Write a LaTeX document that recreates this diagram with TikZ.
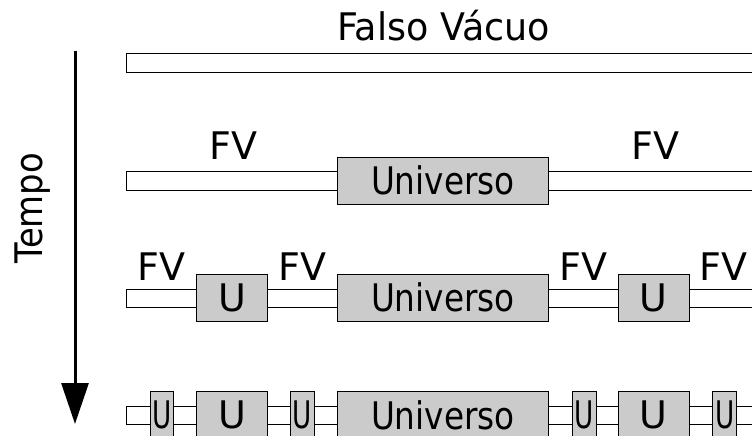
\documentclass[tikz,border=0pt]{standalone}
\usepackage{fontspec}
\setmainfont{DejaVu Sans}
\usetikzlibrary{arrows.meta}
\definecolor{ufill}{RGB}{203,203,203}
\newcommand{\bigfont}{\fontsize{38}{40}\selectfont}
\tikzset{
  bar/.style={draw=black, fill=white, line width=1pt},
  ubox/.style={draw=black, fill=ufill, line width=1pt, inner sep=0pt,
               minimum height=46.7pt, font=\bigfont},
  lbl/.style={inner sep=0pt, anchor=base, font=\bigfont},
  timearrow/.style={line width=3pt, -{Triangle[length=41pt,width=27pt]}}
}
\begin{document}
\begin{tikzpicture}[x=1pt,y=-1pt]
\useasboundingbox (0,0) rectangle (752,436);
\clip (0,0) rectangle (752,436);

% title and time axis
\node[lbl] (title) at (443.7,41) {\scalebox{0.96}[1]{Falso Vácuo}};
\node[lbl, rotate=90] (tempo) at (42,208.5) {\scalebox{0.89}[1]{Tempo}};
\coordinate (tstart) at (75,50.7);
\coordinate (tend) at (75,424);
\draw[timearrow] (tstart) -- (tend);

% row 1
\draw[bar] (126,54) rectangle (770,72.7);

% row 2
\draw[bar] (126,171) rectangle (770,190);
\node[ubox, minimum width=211.7pt] (univ2) at (442.85,180.65) {\scalebox{0.86}[1]{Universo}};
\node[lbl] (fv2a) at (233.8,159) {FV};
\node[lbl] (fv2b) at (655.3,159) {FV};

% row 3
\draw[bar] (126,289) rectangle (770,307.3);
\node[ubox, minimum width=70.6pt] (u3a) at (232,297.65) {U};
\node[ubox, minimum width=211.7pt] (univ3) at (442.85,297.65) {\scalebox{0.86}[1]{Universo}};
\node[ubox, minimum width=71pt] (u3b) at (653.8,297.65) {U};
\node[lbl] (fv3a) at (161.7,280) {FV};
\node[lbl] (fv3b) at (302.3,280) {FV};
\node[lbl] (fv3c) at (583.8,280) {FV};
\node[lbl] (fv3d) at (723.8,280) {FV};

% row 4
\draw[bar] (126,406) rectangle (770,424);
\node[ubox, minimum width=23.3pt] (s4a) at (161.65,415.05) {\scalebox{0.69}[1]{U}};
\node[ubox, minimum width=70.6pt] (u4a) at (232,415.05) {U};
\node[ubox, minimum width=23.3pt] (s4b) at (302.35,415.05) {\scalebox{0.69}[1]{U}};
\node[ubox, minimum width=211.7pt] (univ4) at (442.85,415.05) {\scalebox{0.86}[1]{Universo}};
\node[ubox, minimum width=24pt] (s4c) at (584,415.05) {\scalebox{0.69}[1]{U}};
\node[ubox, minimum width=71pt] (u4b) at (653.8,415.05) {U};
\node[ubox, minimum width=24pt] (s4d) at (724.7,415.05) {\scalebox{0.69}[1]{U}};
\end{tikzpicture}
\end{document}
